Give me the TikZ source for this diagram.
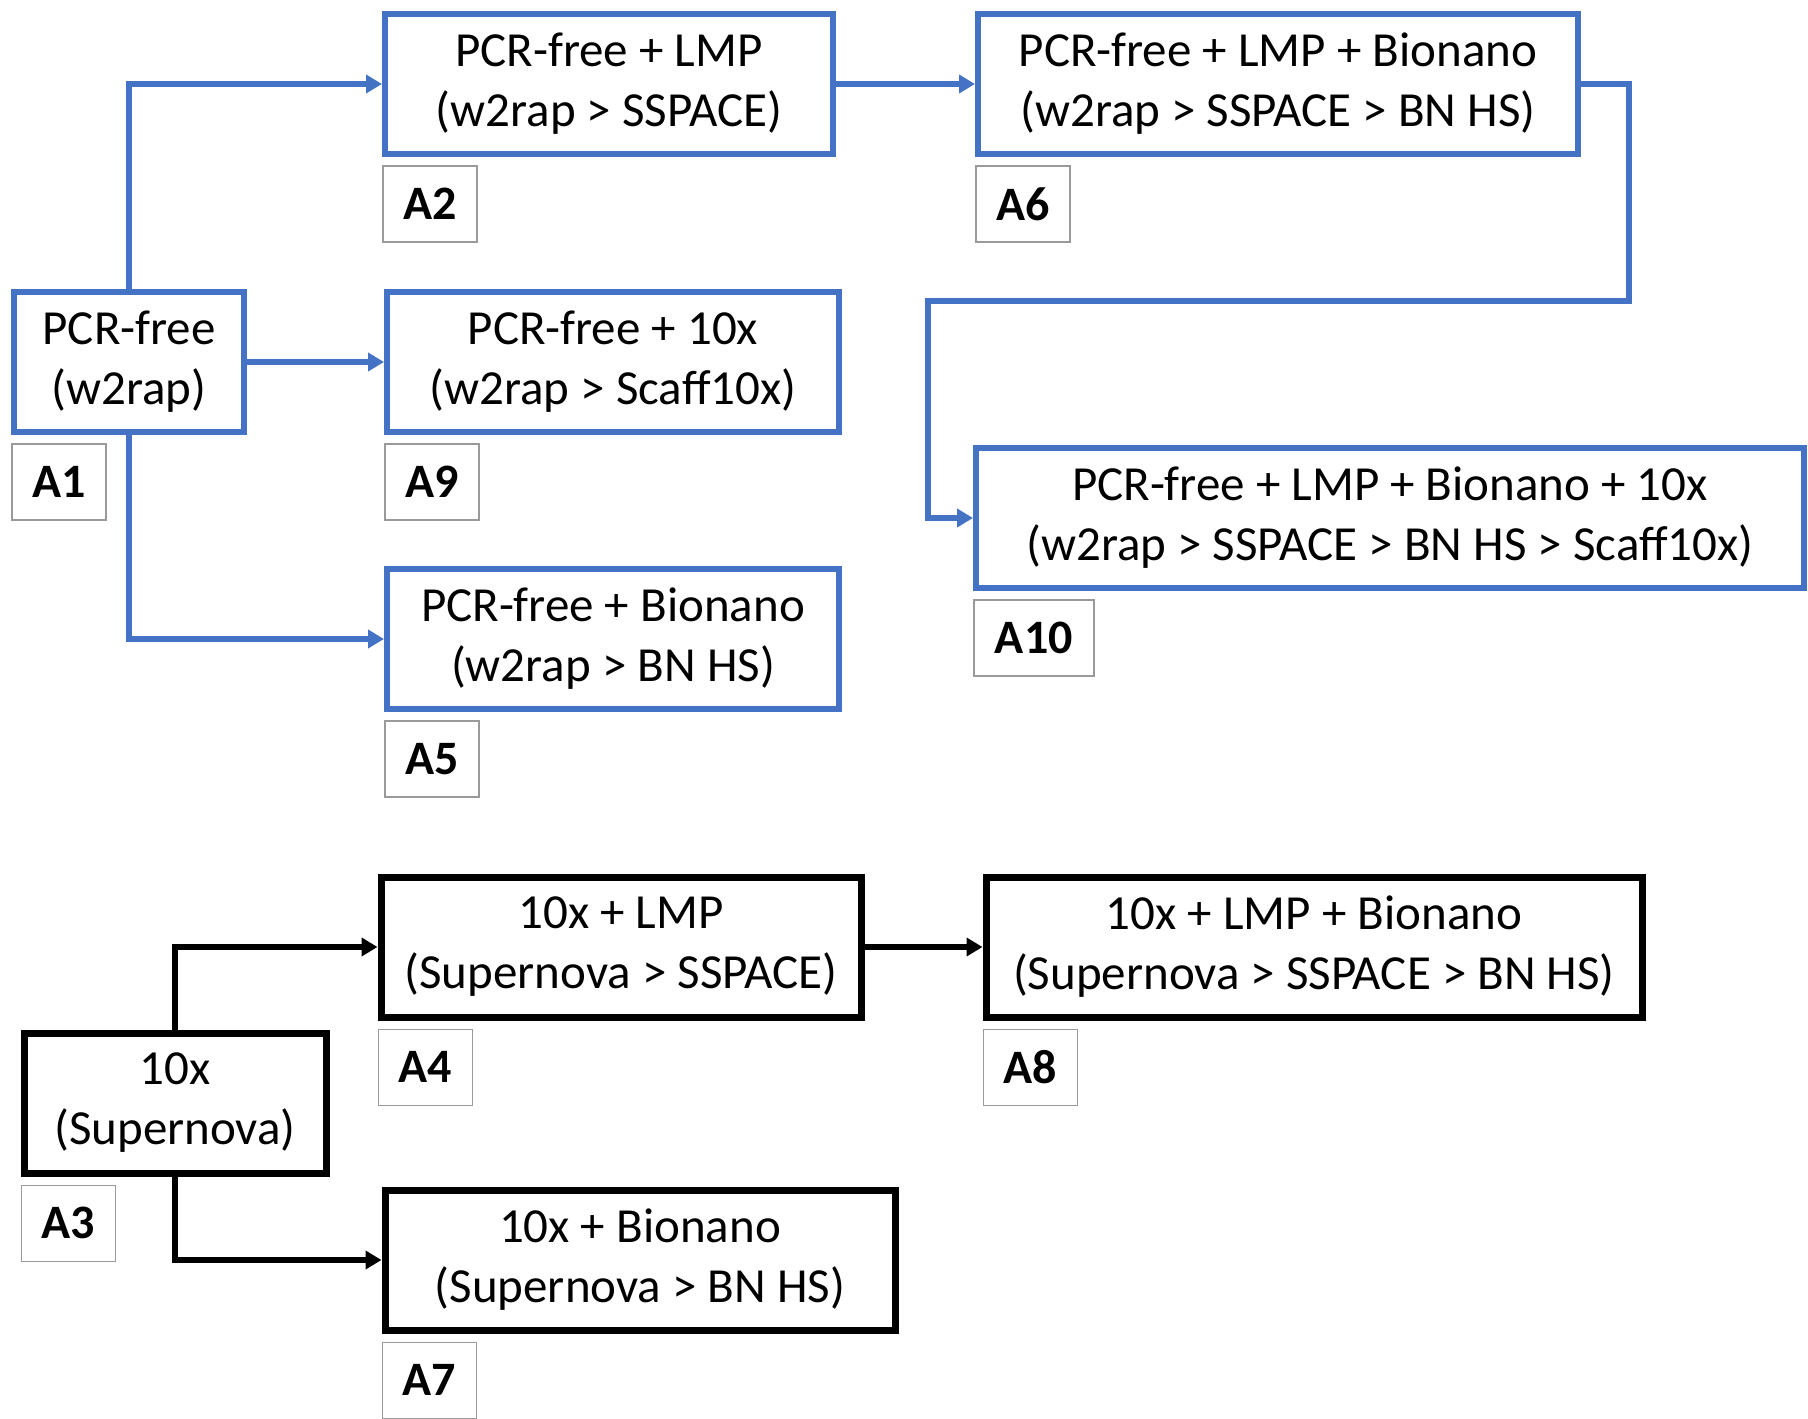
\documentclass[tikz,border=0pt]{standalone}
\usepackage{fontspec}
\setmainfont{Carlito}
\usetikzlibrary{positioning,arrows.meta}

\definecolor{boxblue}{HTML}{4472C4}
\definecolor{taggray}{HTML}{9A9A9A}

\tikzset{
  box/.style={draw, align=center, inner sep=0pt, minimum height=70pt,
    font=\fontsize{24.5}{30}\selectfont},
  bluebox/.style={box, draw=boxblue, line width=3pt},
  blackbox/.style={box, draw=black, line width=3.5pt},
  tag/.style={draw=taggray, line width=0.8pt, minimum width=47pt, minimum height=38pt,
    inner sep=0pt, font=\fontsize{24}{26}\selectfont\bfseries},
  bluearrow/.style={draw=boxblue, line width=2.8pt, -{Triangle[length=8pt,width=9pt]}},
  blackarrow/.style={draw=black, line width=3pt, -{Triangle[length=8pt,width=9pt]}}
}

\begin{document}
\begin{tikzpicture}[x=0.5pt,y=-0.5pt]
\useasboundingbox (0,0) rectangle (1808,1418);

% PCR-free line
\node[bluebox, minimum width=115pt] (a1) at (129,362) {PCR-free\\(w2rap)};
\node[bluebox, minimum width=224pt] (a2) at (609,84) {PCR-free + LMP\\(w2rap > SSPACE)};
\node[bluebox, minimum width=300pt] (a6) at (1278,84) {PCR-free + LMP + Bionano\\(w2rap > SSPACE > BN HS)};
\node[bluebox, minimum width=226pt] (a9) at (613,362) {PCR-free + 10x\\(w2rap > Scaff10x)};
\node[bluebox, minimum width=226pt] (a5) at (613,639) {PCR-free + Bionano\\(w2rap > BN HS)};
\node[bluebox, minimum width=414pt] (a10) at (1390,518) {PCR-free + LMP + Bionano + 10x\\(w2rap > SSPACE > BN HS > Scaff10x)};

% 10x line
\node[blackbox, minimum width=151pt] (a3) at (175,1103) {10x\\(Supernova)};
\node[blackbox, minimum width=240pt] (a4) at (621,947) {10x + LMP\\(Supernova > SSPACE)};
\node[blackbox, minimum width=328pt] (a8) at (1314,947) {10x + LMP + Bionano\\(Supernova > SSPACE > BN HS)};
\node[blackbox, minimum width=255pt] (a7) at (640,1260) {10x + Bionano\\(Supernova > BN HS)};

% tags
\node[tag, below right=4pt and 0pt of a1.south west] (t1) {A1};
\node[tag, below right=4pt and 0pt of a2.south west] (t2) {A2};
\node[tag, below right=4pt and 0pt of a6.south west] (t6) {A6};
\node[tag, below right=4pt and 0pt of a9.south west] (t9) {A9};
\node[tag, below right=4pt and 0pt of a5.south west] (t5) {A5};
\node[tag, minimum width=60pt, below right=4pt and 0pt of a10.south west] (t10) {A10};
\node[tag, below right=4pt and 0pt of a3.south west] (t3) {A3};
\node[tag, below right=4pt and 0pt of a4.south west] (t4) {A4};
\node[tag, below right=4pt and 0pt of a8.south west] (t8) {A8};
\node[tag, below right=4pt and 0pt of a7.south west] (t7) {A7};

\coordinate (turn) at (928,301);

\draw[bluearrow] (a1.north) |- (a2.west);
\draw[bluearrow] (a1.east) -- (a9.west);
\draw[bluearrow] (a1.south) |- (a5.west);
\draw[bluearrow] (a2.east) -- (a6.west);
\draw[bluearrow] (a6.east) -- ++(48,0) |- (turn) |- (a10.west);

\draw[blackarrow] (a3.north) |- (a4.west);
\draw[blackarrow] (a3.south) |- (a7.west);
\draw[blackarrow] (a4.east) -- (a8.west);

\end{tikzpicture}
\end{document}
